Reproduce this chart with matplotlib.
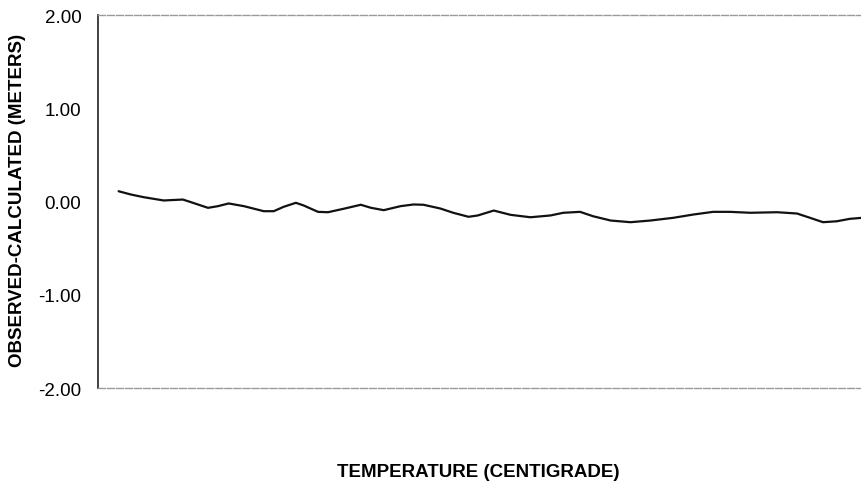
#!/usr/bin/env python3

import matplotlib
matplotlib.use('Agg')
from matplotlib import pyplot as plt

# temperature (arbitrary units across the axis, no tick labels in the original)
temperature = [2.7, 4.3, 6.0, 8.6, 11.1, 12.2, 14.4, 15.7, 17.1, 19.1, 21.7,
               23.0, 24.3, 25.9, 26.9, 28.8, 30.1, 32.2, 34.4, 35.7, 37.4,
               39.6, 41.3, 42.6, 44.8, 46.5, 48.5, 49.7, 51.8, 54.0, 56.6,
               59.2, 60.9, 63.1, 64.8, 67.1, 69.7, 72.3, 75.3, 77.9, 80.5,
               82.7, 85.4, 88.9, 91.5, 93.2, 94.9, 96.7, 98.4, 100.0]

# observed - calculated (meters)
residual = [0.11, 0.075, 0.046, 0.011, 0.021, -0.008, -0.068, -0.050, -0.021,
            -0.050, -0.104, -0.104, -0.057, -0.014, -0.042, -0.111, -0.115,
            -0.077, -0.035, -0.067, -0.093, -0.050, -0.032, -0.035, -0.075,
            -0.121, -0.164, -0.150, -0.097, -0.143, -0.169, -0.150, -0.121,
            -0.111, -0.158, -0.204, -0.222, -0.204, -0.175, -0.140, -0.111,
            -0.111, -0.121, -0.115, -0.129, -0.175, -0.222, -0.212, -0.186,
            -0.175]

y_ticks = [-2.0, -1.0, 0.0, 1.0, 2.0]

plt.rcParams['font.family'] = ['Liberation Sans', 'DejaVu Sans']

fig = plt.figure(figsize=(8.62, 4.89), dpi=100)
ax = fig.add_axes([98 / 862, 1 - 389 / 489, 1 - 98 / 862, (389 - 16) / 489])

ax.plot(temperature, residual, color='#111111', linewidth=1.6,
        solid_capstyle='round', solid_joinstyle='round')

ax.set_xlim(0, 100)
ax.set_ylim(-2, 2)
ax.set_xticks([])
ax.set_yticks(y_ticks)
ax.set_yticklabels(['%.2f' % v for v in y_ticks], fontsize=13.5)
ax.tick_params(axis='y', length=0, pad=12)

ax.spines['right'].set_visible(False)
ax.spines['left'].set_color('#333333')
ax.spines['left'].set_linewidth(1.3)
for side in ('top', 'bottom'):
    ax.spines[side].set_color('#999999')
    ax.spines[side].set_linewidth(1.0)
    ax.spines[side].set_linestyle((0, (5, 1.5)))

fig.text(18 / 862, 1 - 200 / 489, 'OBSERVED-CALCULATED (METERS)', fontsize=13.5,
         fontweight='bold', rotation=90, ha='center', va='center')
fig.text(478 / 862, 1 - 473 / 489, 'TEMPERATURE (CENTIGRADE)', fontsize=13.5,
         fontweight='bold', ha='center', va='center')

fig.savefig('out.png', dpi=100)
